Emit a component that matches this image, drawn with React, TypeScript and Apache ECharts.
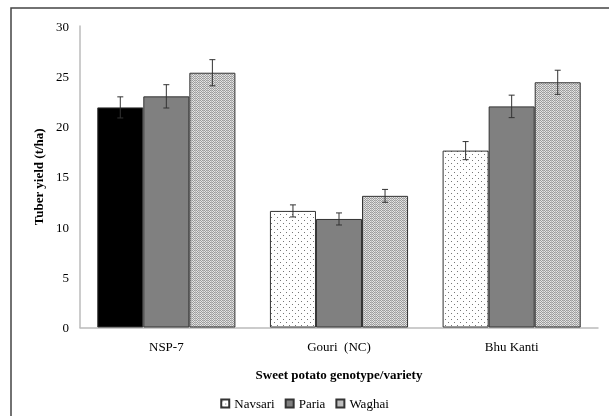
import React, { useEffect, useRef } from "react";
import * as echarts from "echarts";

const categories = ["NSP-7", "Gouri  (NC)", "Bhu Kanti"];
const seriesNames = ["Navsari", "Paria", "Waghai"];
const navsari = [21.9, 11.6, 17.6];
const paria = [23.0, 10.8, 22.0];
const waghai = [25.35, 13.1, 24.4];
const navsariErr = [1.05, 0.6, 0.9];
const pariaErr = [1.16, 0.6, 1.12];
const waghaiErr = [1.3, 0.64, 1.2];
const yTicks = [0, 5, 10, 15, 20, 25, 30];

const FONT = "Liberation Serif";

function makePattern(kind: string): HTMLCanvasElement {
  const c = document.createElement("canvas");
  if (kind === "dots") {
    c.width = 6;
    c.height = 6;
    const ctx = c.getContext("2d")!;
    ctx.fillStyle = "#ffffff";
    ctx.fillRect(0, 0, 6, 6);
    ctx.fillStyle = "#777777";
    ctx.fillRect(1, 1, 1, 1);
    ctx.fillRect(4, 4, 1, 1);
  } else {
    c.width = 4;
    c.height = 4;
    const ctx = c.getContext("2d")!;
    ctx.fillStyle = "#e4e4e4";
    ctx.fillRect(0, 0, 4, 4);
    ctx.fillStyle = "#9a9a9a";
    for (let y = 0; y < 4; y++) {
      for (let x = 0; x < 4; x++) {
        if ((x + y) % 2 === 0) ctx.fillRect(x, y, 1, 1);
      }
    }
    ctx.fillStyle = "#b8b8b8";
    ctx.fillRect(3, 0, 1, 4);
  }
  return c;
}

export default function App() {
  const ref = useRef<HTMLDivElement>(null);
  useEffect(() => {
    if (!ref.current) return;
    const chart = echarts.init(ref.current, null, { renderer: "svg" });
    const dots = makePattern("dots");
    const checker = makePattern("checker");
    const values = [navsari, paria, waghai];
    const errs = [navsariErr, pariaErr, waghaiErr];
    const fills: any[] = [
      { image: dots, repeat: "repeat", imageWidth: 6, imageHeight: 6 },
      "#808080",
      { image: checker, repeat: "repeat", imageWidth: 4, imageHeight: 4 },
    ];
    const barSeries = seriesNames.map((name, si) => ({
      name,
      type: "bar",
      barGap: "0%",
      barCategoryGap: "20%",
      itemStyle: { color: fills[si], borderColor: "#333", borderWidth: 1 },
      data: values[si].map((v, ci) =>
        si === 0 && ci === 0
          ? { value: v, itemStyle: { color: "#000000" } }
          : v
      ),
    }));
    const errSeries = seriesNames.map((name, si) => ({
      name: name + "-err",
      type: "custom",
      data: values[si].map((v, ci) => [ci, v - errs[si][ci], v + errs[si][ci]]),
      renderItem: (params: any, api: any) => {
        const ci = api.value(0);
        const lo = api.coord([ci, api.value(1)]);
        const hi = api.coord([ci, api.value(2)]);
        const cw = api.size([1, 0])[0];
        const bw = (cw * 0.8) / 3;
        const x = lo[0] + (si - 1) * bw;
        const cap = 3;
        const st = { stroke: "#333", lineWidth: 1 };
        return {
          type: "group",
          children: [
            { type: "line", shape: { x1: x, y1: lo[1], x2: x, y2: hi[1] }, style: st },
            { type: "line", shape: { x1: x - cap, y1: hi[1], x2: x + cap, y2: hi[1] }, style: st },
            { type: "line", shape: { x1: x - cap, y1: lo[1], x2: x + cap, y2: lo[1] }, style: st },
          ],
        };
      },
      z: 5,
    }));
    chart.setOption({
      animation: false,
      textStyle: { fontFamily: FONT },
      grid: { left: 80, right: 11, top: 26, bottom: 88.5 },
      xAxis: {
        type: "category",
        data: categories,
        axisLine: { lineStyle: { color: "#bbbbbb", width: 1.5 } },
        axisTick: { show: false },
        axisLabel: { color: "#000", fontSize: 13, fontFamily: FONT, margin: 12 },
        name: "Sweet potato genotype/variety",
        nameLocation: "middle",
        nameGap: 40,
        nameTextStyle: { color: "#000", fontSize: 13, fontWeight: "bold", fontFamily: FONT },
      },
      yAxis: {
        type: "value",
        min: yTicks[0],
        max: yTicks[yTicks.length - 1],
        interval: 5,
        splitLine: { show: false },
        axisLine: { show: true, lineStyle: { color: "#bbbbbb", width: 1.5 } },
        axisTick: { show: false },
        axisLabel: { color: "#000", fontSize: 13, fontFamily: FONT, margin: 11 },
        name: "Tuber yield (t/ha)",
        nameLocation: "middle",
        nameGap: 27,
        nameRotate: 90,
        nameTextStyle: { color: "#000", fontSize: 13, fontWeight: "bold", fontFamily: FONT },
      },
      legend: {
        data: seriesNames,
        bottom: 1,
        left: "center",
        itemWidth: 8,
        itemHeight: 8,
        itemGap: 10,
        icon: "rect",
        textStyle: { color: "#000", fontSize: 13, fontFamily: FONT },
      },
      graphic: [
        {
          type: "rect",
          shape: { x: 11, y: 8, width: 620, height: 430 },
          style: { fill: "none", stroke: "#444", lineWidth: 1.5 },
          silent: true,
        },
      ],
      series: [...barSeries, ...errSeries],
    });
    return () => chart.dispose();
  }, []);
  return (
    <div style={{ position: "fixed", left: 0, top: 0, width: 609, height: 416 }}>
      <div ref={ref} style={{ width: 609, height: 416 }} />
    </div>
  );
}
